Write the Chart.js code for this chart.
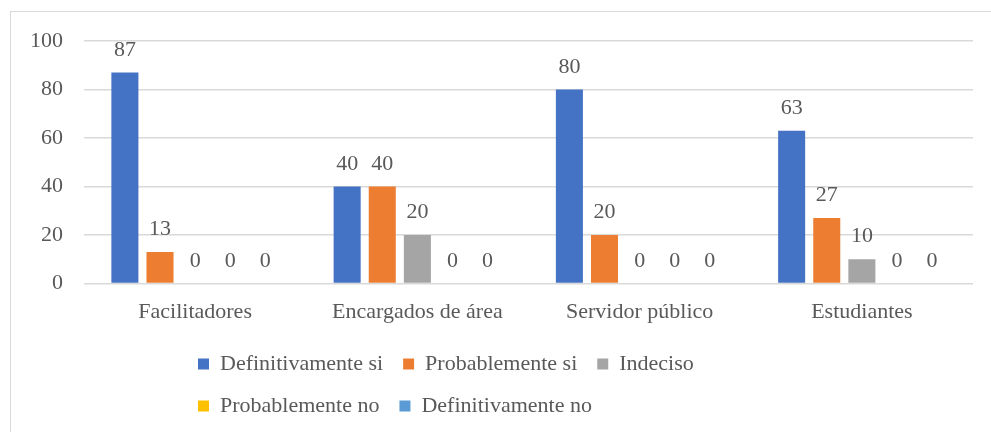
<!DOCTYPE html>
<html lang="es">
<head>
<meta charset="UTF-8">
<script src="https://cdn.jsdelivr.net/npm/chart.js"></script>
<title>Respuestas por grupo</title>
<style>
  body { margin: 0; background: #fff; }
  #box {
    position: absolute; left: 10px; top: 11px;
    width: 980px; height: 420px;
    border-left: 1px solid #d9d9d9; border-top: 1px solid #d9d9d9;
  }
</style>
</head>
<body>
<div id="box"><canvas id="myChart"></canvas></div>
<script>
const categories = ['Facilitadores', 'Encargados de área', 'Servidor público', 'Estudiantes'];
const definitivamenteSi = [87, 40, 80, 63];
const probablementeSi = [13, 40, 20, 27];
const indeciso = [0, 20, 0, 10];
const probablementeNo = [0, 0, 0, 0];
const definitivamenteNo = [0, 0, 0, 0];
const yTicks = [0, 20, 40, 60, 80, 100];

const textColor = '#595959';
const font = { family: 'Liberation Serif', size: 22 };

// numbers above every bar, zeros included
const valueLabels = {
    id: 'valueLabels',
    afterDatasetsDraw(chart) {
        const ctx = chart.ctx;
        ctx.save();
        ctx.font = '22px "Liberation Serif"';
        ctx.fillStyle = textColor;
        ctx.textAlign = 'center';
        ctx.textBaseline = 'alphabetic';
        chart.data.datasets.forEach((ds, i) => {
            chart.getDatasetMeta(i).data.forEach((bar, j) => {
                ctx.fillText(ds.data[j], bar.x, bar.y - 17);
            });
        });
        ctx.restore();
    }
};

// legend in two rows (3 + 2) starting under the first group, like the Excel one
const legendRows = {
    id: 'legendRows',
    afterInit(chart) {
        const legend = chart.legend;
        const fit = legend.fit;
        legend.fit = function () {
            const full = this.maxWidth;
            this.maxWidth = 640;
            fit.call(this);
            this.maxWidth = full;
        };
    },
    afterLayout(chart) {
        chart.legend.left = 167;
        chart.legend.right = 800;
    }
};

const ctx = document.getElementById('myChart');
const chart = new Chart(ctx, {
    type: 'bar',
    data: {
        labels: categories,
        datasets: [
            { label: 'Definitivamente si', data: definitivamenteSi, backgroundColor: '#4472C4' },
            { label: 'Probablemente si', data: probablementeSi, backgroundColor: '#ED7D31' },
            { label: 'Indeciso', data: indeciso, backgroundColor: '#A5A5A5' },
            { label: 'Probablemente no', data: probablementeNo, backgroundColor: '#FFC000' },
            { label: 'Definitivamente no', data: definitivamenteNo, backgroundColor: '#5B9BD5' }
        ]
    },
    options: {
        responsive: true,
        maintainAspectRatio: false,
        animation: false,
        categoryPercentage: 0.79,
        barPercentage: 0.77,
        layout: { padding: { top: 29, left: 0, right: 18, bottom: 5 } },
        plugins: {
            tooltip: { enabled: false },
            legend: {
                position: 'bottom',
                align: 'start',
                labels: {
                    color: textColor,
                    font: font,
                    boxWidth: 11,
                    boxHeight: 11,
                    padding: 20
                }
            }
        },
        scales: {
            x: {
                grid: { display: false, drawTicks: false },
                border: { display: false },
                ticks: { color: textColor, font: font, padding: 15 },
                afterFit(scale) { scale.height -= 7; }
            },
            y: {
                min: yTicks[0],
                max: yTicks[yTicks.length - 1],
                afterBuildTicks(scale) { scale.ticks = yTicks.map(v => ({ value: v })); },
                grid: { color: '#d9d9d9', lineWidth: 1.5, drawTicks: false },
                border: { display: false },
                ticks: { color: textColor, font: font, padding: 21 },
                afterFit(scale) {
                    scale.width -= 2;
                    scale.paddingTop = 0;
                    scale.paddingBottom = 0;
                }
            }
        }
    },
    plugins: [valueLabels, legendRows]
});
</script>
</body>
</html>
